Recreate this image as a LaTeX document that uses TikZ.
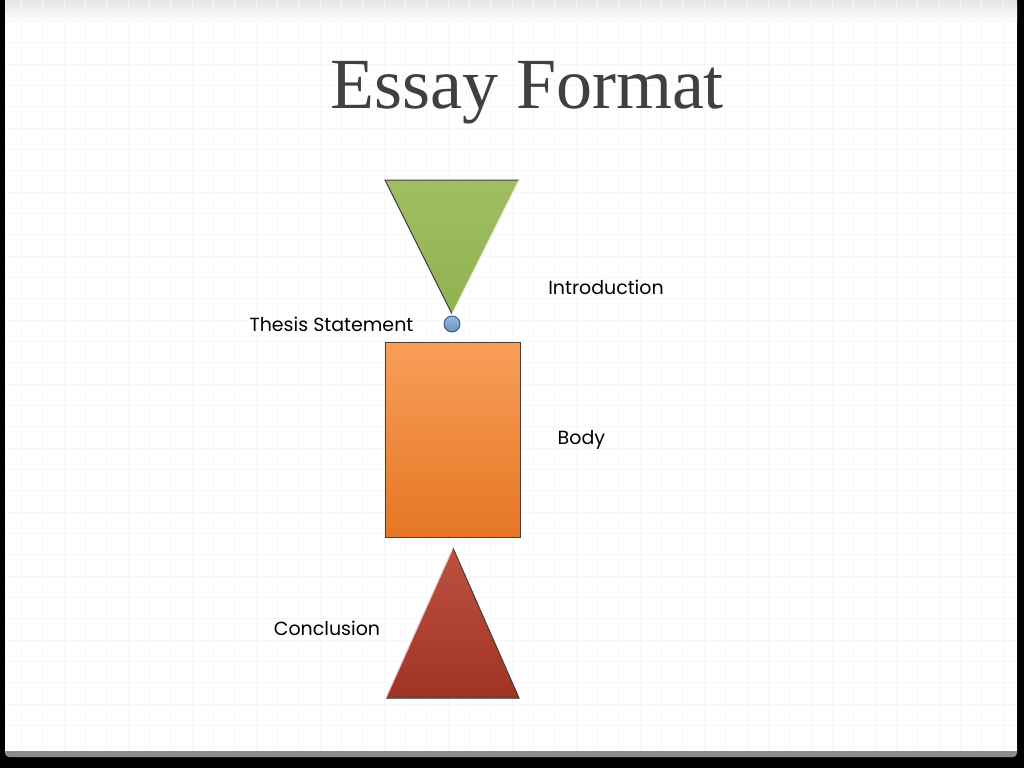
\documentclass[tikz,border=0pt]{standalone}
\usepackage{fontspec}
\setmainfont{Liberation Serif}
\newfontfamily\gothic{Poppins}
\usetikzlibrary{positioning}

\definecolor{introgreen}{RGB}{155,187,89}
\definecolor{introgreendark}{RGB}{145,178,80}
\definecolor{bodyorange}{RGB}{249,158,88}
\definecolor{bodyorangedark}{RGB}{229,118,36}
\definecolor{endred}{RGB}{190,80,64}
\definecolor{endreddark}{RGB}{160,52,36}
\definecolor{dotblue}{RGB}{125,170,220}
\definecolor{dotbluedark}{RGB}{45,85,140}
\definecolor{titlegray}{RGB}{64,64,64}

\begin{document}
\begin{tikzpicture}[x=1pt,y=-1pt,
				node distance=30pt,
				gridline/.style={black!3, line width=0.8pt},
				outline/.style={draw=black!75, line width=1pt, line join=miter},
				box/.style={rectangle, outline, minimum width=135pt, minimum height=195pt, inner sep=0pt},
				dot/.style={circle, draw=dotbluedark, line width=0.9pt, top color=dotblue!80!white, bottom color=dotblue!85!black, minimum size=16pt, inner sep=0pt},
				tag/.style={font=\gothic\fontsize{19}{23}\selectfont, text=black, inner sep=0pt}
				]
				\useasboundingbox (0,0) rectangle (1024,768);
				% slide frame
				\fill[black] (0,0) rectangle (1024,768);
				\fill[black!45, rounded corners=4pt] (5,0) rectangle (1017,757);
				\fill[white] (5,0) rectangle (1017,751);
				\shade[top color=black!10, bottom color=white] (5,0) rectangle (1017,22);
				\foreach \gx in {21.33,42.67,...,1010} \draw[gridline] (\gx,0) -- (\gx,751);
				\foreach \gy in {21.33,42.67,...,750} \draw[gridline] (5,\gy) -- (1017,\gy);
				
				\node[font=\fontsize{72}{80}\selectfont, text=titlegray] (title) at (527,93) {Essay Format};
				
				% introduction
				\coordinate (introL) at (385,180);
				\coordinate (introR) at (519,180);
				\coordinate (introTip) at (452,314);
				\fill[top color=introgreen!95!white, bottom color=introgreendark] (introL) -- (introR) -- (introTip) -- cycle;
				\draw[outline] (introTip) -- (introL) -- (introR);
				\draw[white!80!introgreen, line width=1pt] (introR) -- (introTip);
				\node[dot] (thesis) at (452,324) {};
				
				% body
				\node[box, top color=bodyorange, bottom color=bodyorangedark] (body) at (452.5,439.5) {};
				
				% conclusion
				\coordinate (endTop) at (453,548);
				\coordinate (endL) at (386,698);
				\coordinate (endR) at (519,698);
				\fill[top color=endred, bottom color=endreddark] (endTop) -- (endR) -- (endL) -- cycle;
				\draw[outline] (endL) -- (endR) -- (endTop);
				\draw[white!70!endred, line width=1pt] (endTop) -- (endL);
				
				\node[tag] (introlabel) at (606,287) {Introduction};
				\node[tag, left=30pt of thesis] (thesislabel) {Thesis Statement};
				\node[tag, right=37pt of body] (bodylabel) {Body};
				\node[tag] (endlabel) at (327,628) {Conclusion};
			\end{tikzpicture}
\end{document}
